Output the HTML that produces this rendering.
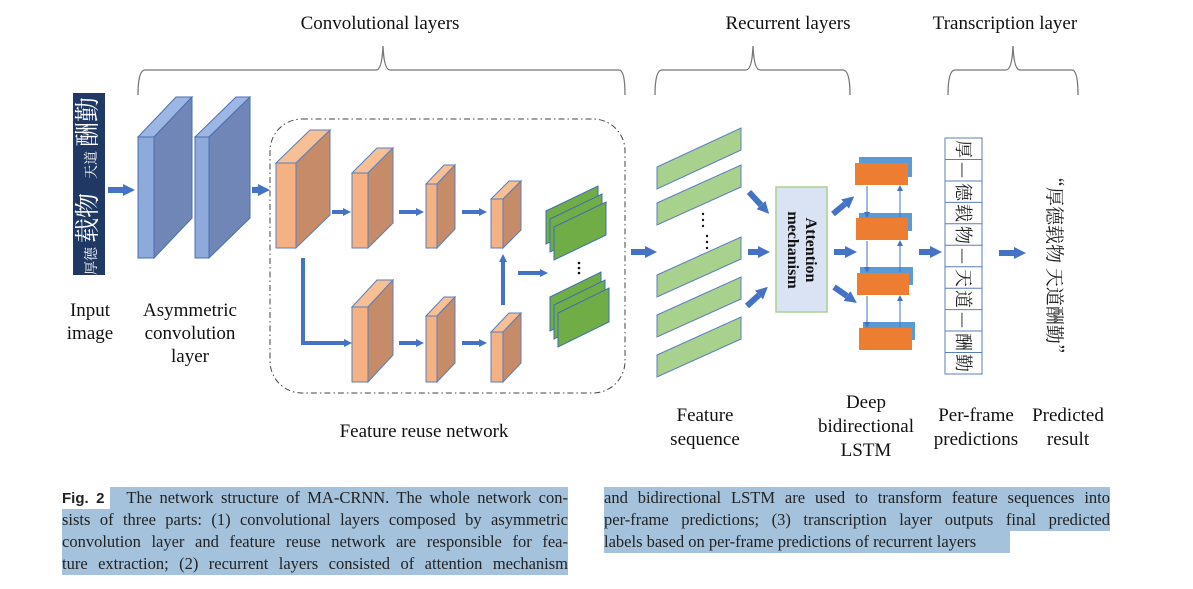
<!DOCTYPE html>
<html><head><meta charset="utf-8"><style>
body{margin:0;background:#fff;}
#w{position:relative;width:1193px;height:589px;overflow:hidden;background:#fff;}
svg{position:absolute;left:0;top:0;}
.cap{position:absolute;font-family:"Liberation Serif",serif;font-size:16.5px;line-height:22px;color:#222;}
.ln{display:block;height:22px;background:#a4c2dc;text-align:justify;text-align-last:justify;white-space:nowrap;overflow:hidden;}
</style></head><body><div id="w">
<svg width="1193" height="589" viewBox="0 0 1193 589" font-family="Liberation Serif, serif">
<defs>
<marker id="a" viewBox="0 0 10 10" refX="0" refY="5" markerWidth="2" markerHeight="2.6" orient="auto"><path d="M0,0L10,5L0,10z" fill="#4472c4"/></marker>
<marker id="b" viewBox="0 0 10 10" refX="0" refY="5" markerWidth="6" markerHeight="6" orient="auto"><path d="M0,0L10,5L0,10z" fill="#4472c4"/></marker>
</defs>
<g font-size="19" fill="#111" text-anchor="middle">
<text x="380" y="29">Convolutional layers</text>
<text x="788" y="29">Recurrent layers</text>
<text x="1005" y="29">Transcription layer</text>
</g>
<g fill="none" stroke="#777" stroke-width="1.3">
<path d="M138,95 Q138,70 145,70 L376,70 Q382,70 383,46 Q384,70 390,70 L619,70 Q625,70 625,95"/>
<path d="M655,95 Q655,70 662,70 L746,70 Q752,70 753,46 Q754,70 760,70 L843,70 Q850,70 850,95"/>
<path d="M948,95 Q948,70 955,70 L1006,70 Q1012,70 1013,46 Q1014,70 1020,70 L1072,70 Q1078,70 1078,95"/>
</g>
<rect x="73" y="93" width="32" height="182" fill="#1f3864"/>
<text transform="translate(96,275) rotate(-90)" fill="#fff" font-family="Noto Serif CJK SC, serif"><tspan font-size="14">厚德</tspan><tspan font-size="25" dx="4">载物</tspan><tspan font-size="14" dx="14">天道</tspan><tspan font-size="25" dx="4">酬勤</tspan></text>
<g stroke="#4472c4" stroke-width="6" marker-end="url(#a)">
<line x1="108" y1="190" x2="123" y2="190"/>
<line x1="252" y1="190" x2="258" y2="190"/>
<line x1="631" y1="252" x2="645" y2="252"/>
<line x1="749" y1="192" x2="761" y2="205"/>
<line x1="748" y1="252" x2="758" y2="252"/>
<line x1="747" y1="306" x2="759" y2="295"/>
<line x1="833" y1="214" x2="845" y2="204"/>
<line x1="834" y1="252" x2="845" y2="252"/>
<line x1="834" y1="287" x2="847" y2="296"/>
<line x1="919" y1="252" x2="930" y2="252"/>
<line x1="999" y1="253" x2="1014" y2="253"/>
</g>
<g stroke="#4a6fb0" stroke-width="1">
<polygon points="138,137 176,97 192,97 154,137" fill="#9db6e3"/>
<polygon points="154,137 192,97 192,218 154,258" fill="#6f86b6"/>
<rect x="138" y="137" width="16" height="121" fill="#8eaadb"/>
<polygon points="195,137 236,97 250,97 209,137" fill="#9db6e3"/>
<polygon points="209,137 250,97 250,218 209,258" fill="#6f86b6"/>
<rect x="195" y="137" width="14" height="121" fill="#8eaadb"/>
</g>
<rect x="270" y="119" width="355" height="274" rx="32" fill="none" stroke="#444" stroke-width="1" stroke-dasharray="6,3,1.5,3"/>
<g stroke="#5b7fb9" stroke-width="1">
<polygon points="276,163 310,130 330,130 296,163" fill="#f7bf96"/><polygon points="296,163 330,130 330,215 296,248" fill="#c68b68"/><rect x="276" y="163" width="20" height="85" fill="#f4b183"/>
<polygon points="352,173 377,148 393,148 368,173" fill="#f7bf96"/><polygon points="368,173 393,148 393,223 368,248" fill="#c68b68"/><rect x="352" y="173" width="16" height="75" fill="#f4b183"/>
<polygon points="426,184 444,165 455,165 437,184" fill="#f7bf96"/><polygon points="437,184 455,165 455,229 437,248" fill="#c68b68"/><rect x="426" y="184" width="11" height="64" fill="#f4b183"/>
<polygon points="491,199 509,181 521,181 503,199" fill="#f7bf96"/><polygon points="503,199 521,181 521,230 503,248" fill="#c68b68"/><rect x="491" y="199" width="12" height="49" fill="#f4b183"/>
<polygon points="352,307 377,280 393,280 368,307" fill="#f7bf96"/><polygon points="368,307 393,280 393,355 368,382" fill="#c68b68"/><rect x="352" y="307" width="16" height="75" fill="#f4b183"/>
<polygon points="426,316 444,297 455,297 437,316" fill="#f7bf96"/><polygon points="437,316 455,297 455,363 437,382" fill="#c68b68"/><rect x="426" y="316" width="11" height="66" fill="#f4b183"/>
<polygon points="491,332 509,313 521,313 503,332" fill="#f7bf96"/><polygon points="503,332 521,313 521,363 503,382" fill="#c68b68"/><rect x="491" y="332" width="12" height="50" fill="#f4b183"/>
</g>
<g stroke="#4472c4" stroke-width="4" fill="none">
<line x1="332" y1="212" x2="343" y2="212" marker-end="url(#a)"/>
<line x1="399" y1="212" x2="416" y2="212" marker-end="url(#a)"/>
<line x1="462" y1="212" x2="479" y2="212" marker-end="url(#a)"/>
<polyline points="303,258 303,343 344,343"/>
<line x1="340" y1="343" x2="344" y2="343" marker-end="url(#a)"/>
<line x1="399" y1="343" x2="416" y2="343" marker-end="url(#a)"/>
<line x1="462" y1="343" x2="479" y2="343" marker-end="url(#a)"/>
<line x1="503" y1="305" x2="503" y2="262" marker-end="url(#a)"/>
<line x1="518" y1="273" x2="540" y2="273" marker-end="url(#a)"/>
</g>
<g fill="#70ad47" stroke="#3d6fb0" stroke-width="1">
<polygon points="546,211 598,186 598,219 546,244"/>
<polygon points="550,219 602,194 602,227 550,252"/>
<polygon points="554,227 606,202 606,235 554,260"/>
<polygon points="550,297 601,272 601,306 550,331"/>
<polygon points="554,305 605,280 605,314 554,339"/>
<polygon points="558,313 609,288 609,322 558,347"/>
</g>
<g fill="#111"><circle cx="579" cy="263" r="1.3"/><circle cx="579" cy="268" r="1.3"/><circle cx="579" cy="273" r="1.3"/></g>
<g fill="#a9d18e" stroke="#5b7fb9" stroke-width="1">
<polygon points="657,167 741,128 741,150 657,189"/>
<polygon points="657,203 741,165 741,187 657,225"/>
<polygon points="657,275 741,237 741,259 657,297"/>
<polygon points="657,315 741,277 741,299 657,337"/>
<polygon points="657,355 741,317 741,339 657,377"/>
</g>
<g fill="#111"><circle cx="703" cy="214" r="1.2"/><circle cx="703" cy="220" r="1.2"/><circle cx="703" cy="226" r="1.2"/><circle cx="707" cy="236" r="1.2"/><circle cx="707" cy="242" r="1.2"/><circle cx="707" cy="248" r="1.2"/></g>
<rect x="776" y="187" width="51" height="125" fill="#dae3f3" stroke="#a9d18e" stroke-width="1.5"/>
<g transform="translate(801,250) rotate(90)" font-weight="bold" font-size="16" text-anchor="middle" fill="#111">
<text x="0" y="-5">Attention</text><text x="0" y="13">mechanism</text></g>
<rect x="859" y="157" width="53" height="20" fill="#5b9bd5"/><rect x="855" y="163" width="53" height="22" fill="#ed7d31"/>
<rect x="859" y="213" width="53" height="18" fill="#5b9bd5"/><rect x="856" y="218" width="52" height="22" fill="#ed7d31"/>
<rect x="860" y="267" width="53" height="18" fill="#5b9bd5"/><rect x="857" y="273" width="52" height="22" fill="#ed7d31"/>
<rect x="863" y="322" width="52" height="18" fill="#5b9bd5"/><rect x="859" y="328" width="53" height="22" fill="#ed7d31"/>
<g stroke="#4472c4" stroke-width="1">
<line x1="867" y1="186" x2="867" y2="212" marker-end="url(#b)"/>
<line x1="867" y1="241" x2="867" y2="267" marker-end="url(#b)"/>
<line x1="867" y1="296" x2="867" y2="322" marker-end="url(#b)"/>
<line x1="900" y1="217" x2="900" y2="191" marker-end="url(#b)"/>
<line x1="900" y1="272" x2="900" y2="246" marker-end="url(#b)"/>
<line x1="900" y1="327" x2="900" y2="301" marker-end="url(#b)"/>
</g>
<rect x="945" y="138" width="37" height="236" fill="#fff" stroke="#5b7fb9" stroke-width="1"/>
<g stroke="#5b7fb9" stroke-width="1">
<line x1="945" y1="159.5" x2="982" y2="159.5"/><line x1="945" y1="181" x2="982" y2="181"/><line x1="945" y1="202.4" x2="982" y2="202.4"/><line x1="945" y1="223.8" x2="982" y2="223.8"/><line x1="945" y1="245.3" x2="982" y2="245.3"/><line x1="945" y1="266.7" x2="982" y2="266.7"/><line x1="945" y1="288.2" x2="982" y2="288.2"/><line x1="945" y1="309.6" x2="982" y2="309.6"/><line x1="945" y1="331" x2="982" y2="331"/><line x1="945" y1="352.5" x2="982" y2="352.5"/>
</g>
<g font-family="Noto Serif CJK SC, serif" font-size="18" fill="#222" text-anchor="middle">
<text transform="translate(963,149) rotate(90)" dy="6">厚</text>
<text transform="translate(963,170) rotate(90)" dy="6">—</text>
<text transform="translate(963,192) rotate(90)" dy="6">德</text>
<text transform="translate(963,213) rotate(90)" dy="6">载</text>
<text transform="translate(963,235) rotate(90)" dy="6">物</text>
<text transform="translate(963,256) rotate(90)" dy="6">—</text>
<text transform="translate(963,278) rotate(90)" dy="6">天</text>
<text transform="translate(963,299) rotate(90)" dy="6">道</text>
<text transform="translate(963,320) rotate(90)" dy="6">—</text>
<text transform="translate(963,342) rotate(90)" dy="6">酬</text>
<text transform="translate(963,363) rotate(90)" dy="6">勤</text>
<text transform="translate(1054,168) rotate(90)" text-anchor="start" dy="6" font-size="19">“厚德载物 天道酬勤”</text>
</g>
<g font-size="19" fill="#111" text-anchor="middle">
<text x="90" y="316">Input</text><text x="90" y="339">image</text>
<text x="190" y="316">Asymmetric</text><text x="190" y="339">convolution</text><text x="190" y="362">layer</text>
<text x="424" y="437">Feature reuse network</text>
<text x="705" y="421">Feature</text><text x="705" y="445">sequence</text>
<text x="866" y="408">Deep</text><text x="866" y="432">bidirectional</text><text x="866" y="456">LSTM</text>
<text x="976" y="421">Per-frame</text><text x="976" y="445">predictions</text>
<text x="1068" y="421">Predicted</text><text x="1068" y="445">result</text>
</g>
</svg>
<div class="cap" style="left:62px;top:487px;width:506px;">
<span class="ln" style="background:linear-gradient(to right,#fff 48px,#a4c2dc 48px);"><b style="font-family:'Liberation Sans',sans-serif;font-size:15px;">Fig. 2</b>&nbsp;&nbsp; The network structure of MA-CRNN. The whole network con-</span>
<span class="ln">sists of three parts: (1) convolutional layers composed by asymmetric</span>
<span class="ln">convolution layer and feature reuse network are responsible for fea-</span>
<span class="ln">ture extraction; (2) recurrent layers consisted of attention mechanism</span>
</div>
<div class="cap" style="left:604px;top:487px;width:506px;">
<span class="ln">and bidirectional LSTM are used to transform feature sequences into</span>
<span class="ln">per-frame predictions; (3) transcription layer outputs final predicted</span>
<span class="ln" style="width:406px;text-align-last:left;">labels based on per-frame predictions of recurrent layers</span>
</div>
</div></body></html>
